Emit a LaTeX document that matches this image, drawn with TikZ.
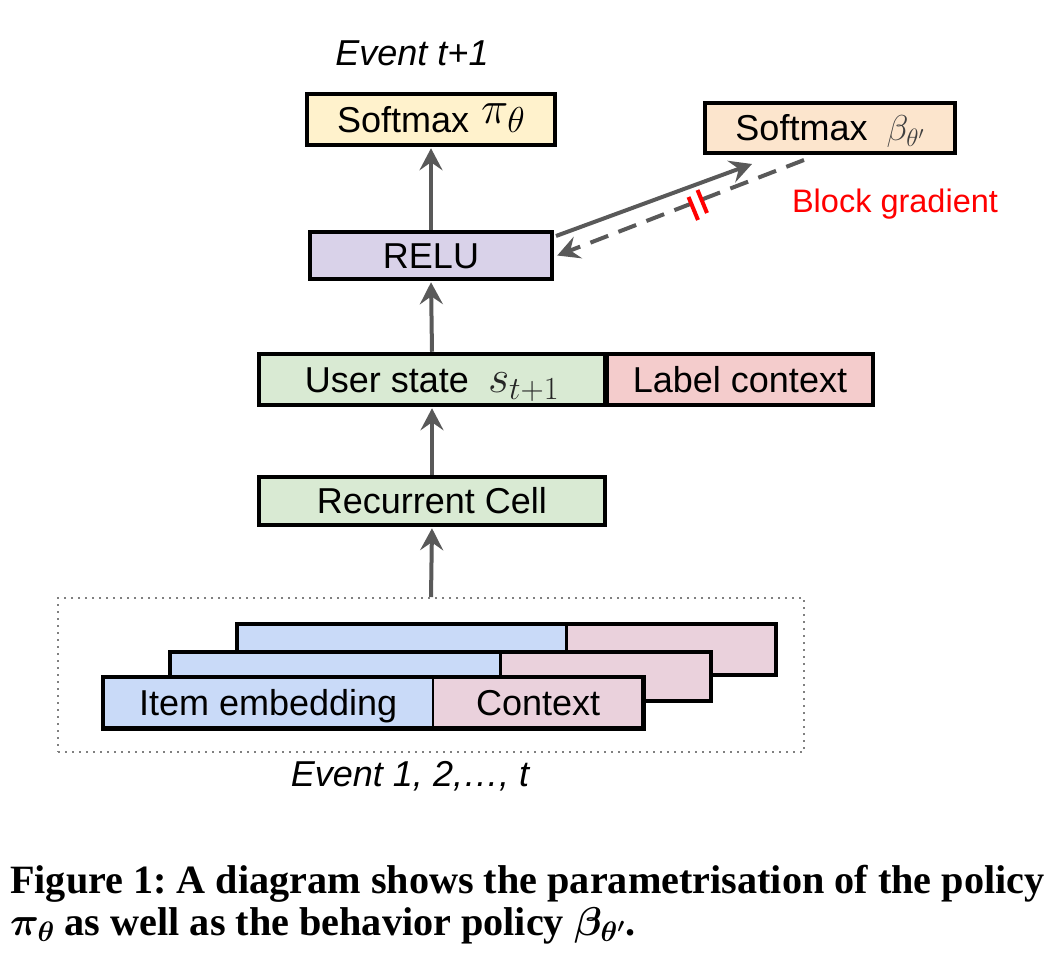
\documentclass[tikz,border=0pt]{standalone}
\usepackage{fix-cm}
\usepackage{fontspec}
\setmainfont{Liberation Sans}
\newfontfamily\capfont{Liberation Serif}
\usetikzlibrary{arrows.meta}
\definecolor{smpicol}{HTML}{FFF2CC}
\definecolor{smbcol}{HTML}{FCE5CD}
\definecolor{relucol}{HTML}{D9D2E9}
\definecolor{greencol}{HTML}{D9EAD3}
\definecolor{labelcol}{HTML}{F4CCCC}
\definecolor{itemcol}{HTML}{C9DAF8}
\definecolor{ctxcol}{HTML}{EAD1DC}
\definecolor{arrgray}{HTML}{595959}
\definecolor{dotgray}{HTML}{808080}
\definecolor{mathgray}{HTML}{404040}
\begin{document}
\begin{tikzpicture}[x=1pt,y=-1pt,
  box/.style={draw=black,line width=4.5pt,inner sep=0pt,text height=25.8pt,text depth=0pt,font=\fontsize{36}{42}\selectfont},
  plain/.style={inner sep=0pt,text height=25.8pt,text depth=0pt,font=\fontsize{36}{42}\selectfont},
  arr/.style={draw=arrgray,line width=4pt,-{Stealth[length=22pt,width=23pt,inset=8pt]}},
  dasharr/.style={arr,dash pattern=on 19pt off 11pt},
  redmark/.style={draw=red,line width=4pt},
  lbl/.style={inner sep=0pt,text height=25.8pt,text depth=0pt,font=\fontsize{36}{42}\selectfont\itshape},
  caption/.style={inner sep=0pt,anchor=base west,font=\capfont\bfseries\boldmath\fontsize{40.2}{44}\selectfont},
  outline/.style={draw=black,line width=4.5pt},
  divider/.style={draw=black,line width=3pt}
]
\useasboundingbox (0,0) rectangle (1048,952);

% top labels
\node[lbl] (evt1) at (412,52.5) {Event t+1};

% boxes
\node[box,fill=smpicol,minimum width=248pt,minimum height=51pt] (smpi) at (431,119.5)
  {Softmax\hspace{12pt}\raisebox{9pt}{\fontsize{46}{50}\selectfont$\pi$}\kern-1pt{\fontsize{36}{42}\selectfont$\theta$}\hspace{22pt}};
\node[box,fill=smbcol,minimum width=250pt,minimum height=50pt] (smb) at (830,128)
  {Softmax\hspace{19pt}{\fontsize{36}{42}\selectfont\color{mathgray}$\beta_{\theta'}$}\hspace{28pt}};
\node[box,fill=relucol,minimum width=242pt,minimum height=47pt] (relu) at (431,255.5) {RELU};
\node[box,fill=labelcol,minimum width=266pt,minimum height=51pt] (lc) at (740,379.5) {Label context};
\node[box,fill=greencol,minimum width=346pt,minimum height=51pt] (us) at (432,379.5)
  {User state\hspace{19pt}{\fontsize{46}{50}\selectfont\color{black!85}$s_{t+1}$}};
\node[box,fill=greencol,minimum width=346pt,minimum height=48pt] (rc) at (432,501) {Recurrent Cell};

% event stack
\node[draw=dotgray,line width=2pt,dash pattern=on 1.8pt off 5.2pt,minimum width=746pt,minimum height=154pt,inner sep=0pt] (events) at (431,675) {};

% back
\fill[itemcol] (237,624) rectangle (566,675);
\fill[ctxcol] (566,624) rectangle (776,675);
\draw[divider] (566,624) -- (566,675);
\draw[outline] (237,624) rectangle (776,675);
% middle
\fill[itemcol] (170,652) rectangle (500,701);
\fill[ctxcol] (500,652) rectangle (711,701);
\draw[divider] (500,652) -- (500,701);
\draw[outline] (170,652) rectangle (711,701);
% front
\node[plain,fill=itemcol,minimum width=330pt,minimum height=51pt,anchor=north west] (item) at (103,677) {Item embedding};
\node[plain,fill=ctxcol,minimum width=210pt,minimum height=51pt,anchor=north west] (ctx) at (433,677) {Context};
\draw[draw=black,line width=2pt] (item.north east) -- (item.south east);
\draw[outline] (item.north west) rectangle (ctx.south east);

\node[lbl] (evtall) at (410,773.5) {Event 1, 2,…, t};

% vertical arrows
\draw[arr,shorten >=1pt] (events.north) -- (rc.south);
\draw[arr,shorten >=1pt] (rc.north) -- (us.south);
\draw[arr,shorten >=1pt] (us.north) -- (relu.south);
\draw[arr,shorten >=1pt] (relu.north) -- (smpi.south);

% diagonal arrows
\coordinate (solidStart) at (556,236);
\coordinate (solidEnd) at (752,164);
\coordinate (dashStart) at (804,160);
\draw[arr] (solidStart) -- (solidEnd);
\draw[dasharr] (dashStart) -- ([xshift=3pt]relu.east);

% block gradient marks
\coordinate (m1a) at (688.5,197);
\coordinate (m1b) at (698,220);
\coordinate (m2a) at (697.5,190);
\coordinate (m2b) at (707,213);
\draw[redmark] (m1a) -- (m1b);
\draw[redmark] (m2a) -- (m2b);
\node[inner sep=0pt,text height=23.3pt,text depth=0pt,font=\fontsize{32.5}{38}\selectfont,text=red] (bg) at (895,201) {Block gradient};

% caption
\node[caption] (cap1) at (10,893) {Figure 1:\ A diagram shows the parametrisation of the policy};
\node[caption] (cap2) at (10,935) {$\pi_\theta$ as well as the behavior policy $\beta_{\theta'}$.};
\end{tikzpicture}
\end{document}
